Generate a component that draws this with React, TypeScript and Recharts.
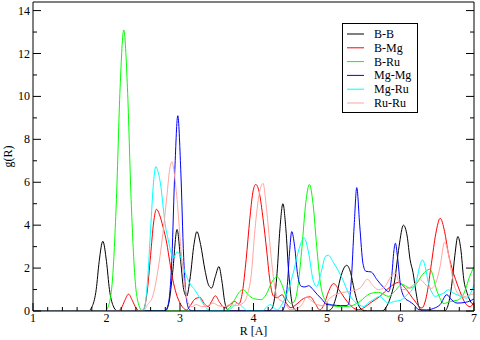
import React from "react";
import { LineChart, Line, XAxis, YAxis, Legend } from "recharts";

// g(R) partial radial distribution functions, [R, g] points
const bbPoints: [number, number][] = [
  [1.0, 0], [1.75, 0], [1.81, 0.25], [1.86, 1.0], [1.9, 2.3], [1.95, 3.25], [2.0, 2.3], [2.04, 1.0], [2.09, 0.25], [2.15, 0],
  [2.8, 0], [2.85, 0.4], [2.9, 1.8], [2.96, 3.8], [3.01, 2.3], [3.05, 1.0], [3.09, 0.68], [3.14, 1.6], [3.19, 3.1],
  [3.23, 3.7], [3.28, 3.1], [3.34, 1.9], [3.39, 1.2], [3.43, 1.07], [3.48, 1.6], [3.53, 2.07], [3.57, 1.4], [3.61, 0.4],
  [3.65, 0.05], [3.7, 0],
  [4.2, 0], [4.24, 0.07], [4.28, 0.46], [4.32, 1.74], [4.36, 3.84], [4.4, 5.0], [4.44, 3.84], [4.48, 1.74], [4.52, 0.46],
  [4.56, 0.07], [4.6, 0],
  [5.0, 0], [5.06, 0.1], [5.12, 0.6], [5.18, 1.5], [5.23, 2.0], [5.27, 2.13], [5.32, 1.8], [5.37, 1.0], [5.42, 0.35],
  [5.48, 0.05], [5.55, 0],
  [5.75, 0], [5.8, 0.15], [5.86, 0.6], [5.92, 1.4], [5.98, 3.0], [6.04, 4.0], [6.09, 3.5], [6.13, 2.4], [6.17, 1.8],
  [6.21, 0.9], [6.25, 0.2], [6.3, 0],
  [6.6, 0], [6.65, 0.3], [6.7, 1.3], [6.74, 2.6], [6.78, 3.47], [6.82, 2.9], [6.86, 1.5], [6.91, 0.8], [6.96, 0.4], [7.0, 0.3],
];

const bmgPoints: [number, number][] = [
  [1.0, 0], [2.15, 0], [2.2, 0.12], [2.25, 0.5], [2.3, 0.79], [2.35, 0.5], [2.4, 0.15], [2.45, 0], [2.5, 0.05],
  [2.55, 0.8], [2.6, 2.6], [2.64, 4.1], [2.68, 4.74], [2.72, 4.5], [2.77, 3.9], [2.82, 3.16], [2.86, 2.3], [2.9, 1.5],
  [2.95, 0.8], [3.0, 0.37], [3.05, 0.12], [3.09, 0.05], [3.14, 0.25], [3.2, 0.55], [3.27, 0.63], [3.33, 0.35],
  [3.38, 0.2], [3.43, 0.45], [3.48, 0.71], [3.54, 0.4], [3.61, 0.14], [3.68, 0.3], [3.74, 0.45], [3.8, 0.32],
  [3.85, 0.9], [3.9, 2.4], [3.95, 4.3], [3.99, 5.5], [4.03, 5.9], [4.08, 5.5], [4.13, 4.3], [4.18, 2.8], [4.22, 1.5],
  [4.27, 0.7], [4.32, 0.62], [4.39, 0.76], [4.45, 0.35], [4.51, 0.15], [4.58, 0.3], [4.68, 0.58], [4.77, 0.66],
  [4.84, 0.35], [4.9, 0.05], [4.96, 0.3], [5.02, 0.9], [5.09, 1.28], [5.16, 1.0], [5.24, 0.6], [5.31, 0.3], [5.38, 0.1],
  [5.43, 0.06], [5.5, 0.15], [5.6, 0.4], [5.72, 0.68], [5.85, 1.1], [5.97, 1.33], [6.08, 1.0], [6.18, 0.53],
  [6.29, 0.14], [6.36, 0.8], [6.42, 2.2], [6.48, 3.6], [6.54, 4.32], [6.6, 3.7], [6.65, 2.7], [6.7, 2.0], [6.75, 1.46],
  [6.81, 0.9], [6.88, 0.37], [6.95, 0.2], [7.0, 0.45],
];

const bruPoints: [number, number][] = [
  [1.0, 0], [1.98, 0], [2.035, 0.33], [2.085, 1.64], [2.135, 5.2], [2.185, 10.4], [2.235, 13.1], [2.285, 10.4],
  [2.335, 5.2], [2.385, 1.64], [2.435, 0.33], [2.49, 0], [3.6, 0], [3.66, 0.1], [3.74, 0.5], [3.8, 0.85], [3.86, 1.0],
  [3.93, 0.75], [4.0, 0.58], [4.1, 0.53], [4.17, 0.75], [4.25, 1.35], [4.32, 1.6], [4.39, 1.2], [4.45, 0.6],
  [4.52, 0.34], [4.57, 0.55], [4.61, 1.3], [4.66, 3.0], [4.71, 5.0], [4.76, 5.9], [4.81, 5.0], [4.86, 3.0],
  [4.91, 1.3], [4.96, 0.6], [5.04, 0.3], [5.12, 0.22], [5.22, 0.2], [5.34, 0.25], [5.45, 0.45], [5.58, 0.8],
  [5.7, 0.87], [5.84, 0.68], [5.93, 0.95], [6.02, 1.25], [6.12, 1.07], [6.2, 1.2], [6.3, 1.7], [6.4, 1.95],
  [6.5, 0.9], [6.59, 0.35], [6.68, 0.45], [6.77, 0.5], [6.86, 0.8], [6.94, 1.6], [7.0, 2.07],
];

const mgmgPoints: [number, number][] = [
  [1.0, 0], [2.78, 0], [2.81, 0.06], [2.85, 0.5], [2.89, 2.5], [2.93, 6.6], [2.97, 9.1], [3.01, 6.6], [3.05, 2.5],
  [3.09, 0.5], [3.13, 0.06], [3.18, 0], [4.38, 0], [4.42, 0.2], [4.46, 1.2], [4.49, 2.7], [4.52, 3.7], [4.56, 3.0],
  [4.6, 1.7], [4.65, 1.15], [4.7, 1.12], [4.75, 1.18], [4.81, 1.0], [4.87, 0.76], [4.93, 0.55], [5.0, 0.3],
  [5.08, 0.28], [5.18, 0.25], [5.26, 0.25], [5.29, 0.3], [5.33, 1.4], [5.37, 4.0], [5.405, 5.75], [5.445, 4.0],
  [5.49, 2.2], [5.53, 1.85], [5.6, 1.82], [5.68, 1.46], [5.77, 1.1], [5.84, 0.9], [5.88, 1.6], [5.91, 2.8],
  [5.93, 3.16], [5.96, 2.5], [6.0, 1.2], [6.06, 0.6], [6.12, 0.45], [6.18, 0.3], [6.25, 0.06], [6.35, 0.05],
  [6.45, 0.12], [6.54, 0.3], [6.63, 0.76], [6.7, 0.5], [6.77, 0.37], [6.88, 0.4], [7.0, 0.56],
];

const mgruPoints: [number, number][] = [
  [1.0, 0], [2.48, 0], [2.52, 0.2], [2.56, 1.5], [2.6, 3.8], [2.64, 6.0], [2.67, 6.73], [2.7, 6.5], [2.74, 5.8],
  [2.77, 4.87], [2.8, 4.0], [2.84, 3.32], [2.88, 2.7], [2.91, 2.47], [2.96, 2.75], [3.0, 2.6], [3.04, 2.1],
  [3.09, 1.6], [3.14, 1.25], [3.2, 0.99], [3.27, 0.6], [3.32, 0.3], [3.38, 0.08], [3.45, 0], [3.65, 0], [3.72, 0.2],
  [3.79, 0.37], [3.86, 0.15], [3.92, 0], [4.12, 0], [4.18, 0.2], [4.23, 0.3], [4.28, 0.15], [4.32, 0.05],
  [4.4, 0.4], [4.48, 1.05], [4.55, 1.9], [4.62, 2.9], [4.69, 3.4], [4.75, 2.7], [4.81, 1.46], [4.86, 1.14],
  [4.92, 1.8], [4.98, 2.55], [5.02, 2.6], [5.08, 2.3], [5.15, 1.9], [5.21, 1.5], [5.29, 0.84], [5.36, 0.5],
  [5.43, 0.3], [5.5, 0.21], [5.57, 0.4], [5.63, 0.53], [5.72, 0.68], [5.78, 0.5], [5.84, 0.37], [5.92, 0.45],
  [6.0, 0.5], [6.09, 0.76], [6.16, 1.0], [6.22, 1.46], [6.27, 2.2], [6.3, 2.39], [6.34, 2.0], [6.38, 1.3],
  [6.43, 0.85], [6.47, 0.68], [6.53, 0.75], [6.59, 0.84], [6.65, 0.99], [6.71, 0.85], [6.77, 0.76], [6.84, 0.65],
  [6.9, 0.6], [6.95, 0.8], [7.0, 1.22],
];

const ruruPoints: [number, number][] = [
  [1.0, 0], [2.5, 0], [2.56, 0.3], [2.63, 0.7], [2.7, 1.9], [2.76, 3.4], [2.82, 5.3], [2.86, 6.6], [2.89, 6.96],
  [2.93, 6.2], [2.97, 4.8], [3.01, 3.0], [3.06, 1.3], [3.11, 0.4], [3.16, 0.2], [3.22, 0.3], [3.3, 0.2],
  [3.38, 0.25], [3.45, 0.37], [3.52, 0.25], [3.6, 0.2], [3.68, 0.3], [3.76, 0.25], [3.86, 0.37], [3.92, 0.8],
  [3.97, 1.7], [4.02, 3.8], [4.08, 5.5], [4.13, 5.95], [4.17, 5.0], [4.21, 3.6], [4.25, 2.2], [4.29, 1.1],
  [4.33, 0.6], [4.39, 0.45], [4.44, 0.3], [4.5, 0.05], [4.58, 0.1], [4.66, 0.3], [4.72, 0.65], [4.78, 0.5],
  [4.86, 0.3], [4.95, 0.25], [5.04, 0.6], [5.18, 0.84], [5.31, 0.91], [5.45, 1.07], [5.55, 1.48], [5.62, 1.2],
  [5.7, 0.99], [5.79, 1.14], [5.87, 1.6], [5.93, 1.77], [5.98, 1.3], [6.03, 0.99], [6.1, 1.05], [6.17, 1.2],
  [6.27, 1.46], [6.35, 1.2], [6.42, 1.05], [6.49, 1.4], [6.54, 2.1], [6.6, 3.21], [6.65, 2.7], [6.7, 1.7],
  [6.75, 1.0], [6.82, 0.72], [6.88, 0.68], [6.95, 0.76], [7.0, 0.8],
];

const xTicks = [
  1, 1.2, 1.4, 1.6, 1.8, 2, 2.2, 2.4, 2.6, 2.8, 3, 3.2, 3.4, 3.6, 3.8, 4,
  4.2, 4.4, 4.6, 4.8, 5, 5.2, 5.4, 5.6, 5.8, 6, 6.2, 6.4, 6.6, 6.8, 7,
];
const yTicks = [0, 1, 2, 3, 4, 5, 6, 7, 8, 9, 10, 11, 12, 13, 14];

const font = "'Liberation Serif', 'Times New Roman', serif";

const toRows = (pts: [number, number][]) => pts.map(([r, g]) => ({ r, g }));

const series = [
  { name: "B-B", color: "#000000", data: toRows(bbPoints) },
  { name: "B-Mg", color: "#ff0000", data: toRows(bmgPoints) },
  { name: "B-Ru", color: "#00ff00", data: toRows(bruPoints) },
  { name: "Mg-Mg", color: "#0000ff", data: toRows(mgmgPoints) },
  { name: "Mg-Ru", color: "#00ffff", data: toRows(mgruPoints) },
  { name: "Ru-Ru", color: "#ffa5a0", data: toRows(ruruPoints) },
];

const isWhole = (v: number) => Math.abs(v - Math.round(v)) < 1e-6;

// ticks point inward, grace style
function BottomTick(props: any) {
  const { x, y, payload } = props;
  const major = isWhole(payload.value);
  return (
    <g>
      <line x1={x} x2={x} y1={y} y2={y - (major ? 8 : 4)} stroke="#000" />
      {major && (
        <text x={x} y={y + 11} textAnchor="middle" fontSize={12} fontFamily={font} fill="#000">
          {payload.value}
        </text>
      )}
    </g>
  );
}

function TopTick(props: any) {
  const { x, y, payload } = props;
  const major = isWhole(payload.value);
  return <line x1={x} x2={x} y1={y} y2={y + (major ? 8 : 4)} stroke="#000" />;
}

function LeftTick(props: any) {
  const { x, y, payload } = props;
  const major = payload.value % 2 === 0;
  return (
    <g>
      <line x1={x} x2={x + (major ? 8 : 4)} y1={y} y2={y} stroke="#000" />
      {major && (
        <text x={x - 3} y={y + 4} textAnchor="end" fontSize={12} fontFamily={font} fill="#000">
          {payload.value}
        </text>
      )}
    </g>
  );
}

function RightTick(props: any) {
  const { x, y, payload } = props;
  const major = payload.value % 2 === 0;
  return <line x1={x} x2={x - (major ? 8 : 4)} y1={y} y2={y} stroke="#000" />;
}

function LegendBox(props: any) {
  const items = props.payload || [];
  return (
    <svg width={76} height={90} style={{ display: "block" }}>
      <rect x={0.5} y={0.5} width={75} height={89} fill="#fff" stroke="#000" />
      {items.map((it: any, i: number) => {
        const cy = 11 + i * 13.8;
        return (
          <g key={i}>
            <line x1={5} x2={22} y1={cy} y2={cy} stroke={it.color} />
            <text x={32} y={cy + 4} fontSize={12} fontFamily={font} fill="#000">
              {it.value}
            </text>
          </g>
        );
      })}
    </svg>
  );
}

export default function App() {
  return (
    <div style={{ position: "absolute", left: 0, top: 0, background: "#fff" }}>
      <LineChart width={480} height={340} margin={{ top: 1, right: 5, bottom: 0, left: 0 }}>
        <XAxis
          dataKey="r"
          type="number"
          domain={[1, 7]}
          ticks={xTicks}
          interval={0}
          allowDataOverflow
          height={29}
          tickSize={0}
          tickMargin={0}
          tickLine={false}
          tick={<BottomTick />}
          axisLine={{ stroke: "#000" }}
          label={{ value: "R [A]", position: "insideBottom", offset: 5, fontSize: 12, fontFamily: font, fill: "#000" }}
        />
        <XAxis
          xAxisId="top"
          orientation="top"
          type="number"
          domain={[1, 7]}
          ticks={xTicks}
          interval={0}
          allowDataOverflow
          height={1}
          tickSize={0}
          tickMargin={0}
          tickLine={false}
          tick={<TopTick />}
          axisLine={{ stroke: "#000" }}
        />
        <YAxis
          type="number"
          domain={[0, 14.4]}
          ticks={yTicks}
          interval={0}
          allowDataOverflow
          width={33}
          tickSize={0}
          tickMargin={0}
          tickLine={false}
          tick={<LeftTick />}
          axisLine={{ stroke: "#000" }}
          label={{
            value: "g(R)",
            angle: -90,
            position: "insideLeft",
            offset: 8,
            fontSize: 12,
            fontFamily: font,
            fill: "#000",
            style: { textAnchor: "middle" },
          }}
        />
        <YAxis
          yAxisId="right"
          orientation="right"
          type="number"
          domain={[0, 14.4]}
          ticks={yTicks}
          interval={0}
          allowDataOverflow
          width={1}
          tickSize={0}
          tickMargin={0}
          tickLine={false}
          tick={<RightTick />}
          axisLine={{ stroke: "#000" }}
        />
        <Legend
          layout="horizontal"
          verticalAlign="middle"
          align="center"
          wrapperStyle={{ left: 342, top: 23, width: 76, height: 90 }}
          content={<LegendBox />}
        />
        {series.map((s) => (
          <Line
            key={s.name}
            name={s.name}
            data={s.data}
            dataKey="g"
            type="monotone"
            stroke={s.color}
            strokeWidth={1}
            dot={false}
            activeDot={false}
            isAnimationActive={false}
          />
        ))}
      </LineChart>
    </div>
  );
}
